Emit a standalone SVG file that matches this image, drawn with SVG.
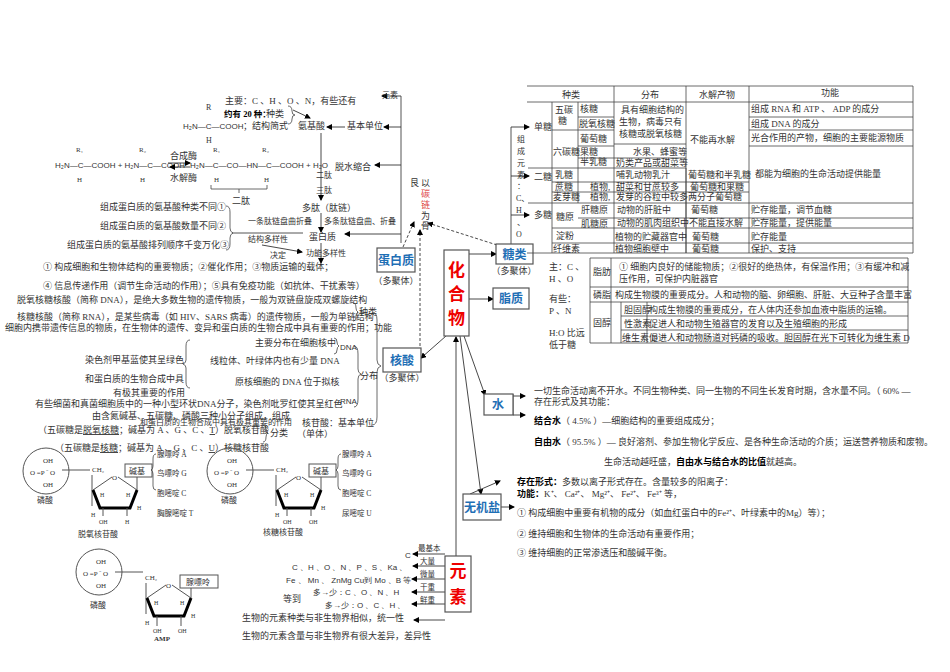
<svg xmlns="http://www.w3.org/2000/svg" width="950" height="672" viewBox="0 0 950 672">
<defs>
<marker id="a" markerWidth="6" markerHeight="6" refX="5" refY="3" orient="auto" markerUnits="userSpaceOnUse"><path d="M0,0 L6,3 L0,6 z" fill="#000"/></marker>
<style>
text{font-family:"Liberation Serif","Noto Sans CJK SC",serif;font-size:9px;fill:#333}
.b{font-weight:bold;fill:#000}
.box{fill:#fff;stroke:#555;stroke-width:1.2}
.bl{font-family:"Noto Sans CJK SC",sans-serif;font-size:12px;fill:#1f6fb5;font-weight:bold}
.rd{font-family:"Noto Sans CJK SC",sans-serif;font-size:17px;fill:#e00;font-weight:bold}
.ln{stroke:#555;stroke-width:1;fill:none}
.t{stroke:#444;stroke-width:0.8;fill:none}
.ar{stroke:#333;stroke-width:0.9;fill:none;marker-end:url(#a)}
.ds{stroke:#333;stroke-width:0.9;fill:none;stroke-dasharray:3,2;marker-end:url(#a)}
.th{stroke:#000;stroke-width:3;fill:none}
</style>
</defs>
<rect width="950" height="672" fill="#fff"/>

<g id="connectors">
<line class="ar" x1="469" y1="254" x2="496" y2="254"/>
<line class="ar" x1="469" y1="299" x2="493" y2="299"/>
<line class="ar" x1="446" y1="336" x2="421" y2="358"/>
<line class="ar" x1="464" y1="336" x2="485" y2="395"/>
<line class="ar" x1="460" y1="336" x2="481" y2="494"/>
<line class="ar" x1="456" y1="556" x2="456" y2="337"/>
<line class="ds" x1="403" y1="247" x2="414" y2="222"/>
<line class="ds" x1="420" y1="346" x2="420" y2="230"/>
<line class="ds" x1="497" y1="245" x2="428" y2="223"/>
<line class="ar" x1="470" y1="494" x2="500" y2="481"/>
<line class="ar" x1="501" y1="507" x2="514" y2="507"/>
<line class="ln" x1="513" y1="394" x2="513" y2="415"/>
<line class="ar" x1="513" y1="396" x2="525" y2="396"/>
<line class="ar" x1="513" y1="415" x2="525" y2="415"/>
<line class="ln" x1="401" y1="96" x2="401" y2="243"/>
<line class="ar" x1="401" y1="96" x2="382" y2="96"/>
<line class="ar" x1="401" y1="127" x2="384" y2="127"/>
<line class="ar" x1="345" y1="127" x2="327" y2="127"/>
<line class="ar" x1="401" y1="165" x2="375" y2="165"/>
<line class="ar" x1="401" y1="234" x2="345" y2="234"/>
<line class="ar" x1="293" y1="110" x2="310" y2="118"/>
<line class="ar" x1="321" y1="133" x2="321" y2="200"/>
<line class="ar" x1="321" y1="213" x2="321" y2="232"/>
<line class="ar" x1="321" y1="243" x2="321" y2="263"/>
<line class="ln" x1="232" y1="233" x2="303" y2="233"/>
<line class="ar" x1="262" y1="245" x2="302" y2="252"/>
<line class="ar" x1="445" y1="554" x2="413" y2="554"/>
<line class="ar" x1="445" y1="566" x2="413" y2="566"/>
<line class="ar" x1="445" y1="579" x2="412" y2="579"/>
<line class="ar" x1="445" y1="592" x2="412" y2="592"/>
<line class="ar" x1="445" y1="604" x2="412" y2="604"/>
<line class="ar" x1="445" y1="620" x2="414" y2="620"/>
<line class="ln" x1="511" y1="127" x2="511" y2="245"/>
<line class="ar" x1="511" y1="127" x2="529" y2="127"/>
<line class="ar" x1="511" y1="176" x2="529" y2="176"/>
<line class="ar" x1="511" y1="215" x2="529" y2="215"/>
</g>

<g id="n-huahewu"><rect class="box" x="444" y="250" width="25" height="86"/>
<text class="rd" x="456.5" y="276" text-anchor="middle">化</text><text class="rd" x="456.5" y="300" text-anchor="middle">合</text><text class="rd" x="456.5" y="324" text-anchor="middle">物</text></g>
<g id="n-tanglei"><rect class="box" x="496" y="244" width="37" height="20"/><text class="bl" x="514.5" y="259" text-anchor="middle">糖类</text><text x="514" y="274" text-anchor="middle">（多聚体）</text></g>
<g id="n-zhizhi"><rect class="box" x="493" y="288" width="36" height="21"/><text class="bl" x="511" y="303" text-anchor="middle">脂质</text></g>
<g id="n-danbai"><rect class="box" x="377" y="248" width="38" height="24"/><text class="bl" x="396" y="265" text-anchor="middle">蛋白质</text><text x="396" y="284" text-anchor="middle">（多聚体）</text></g>
<g id="n-hesuan"><rect class="box" x="383" y="348" width="38" height="24"/><text class="bl" x="402" y="365" text-anchor="middle">核酸</text><text x="402" y="381" text-anchor="middle">（多聚体）</text></g>
<g id="n-shui"><rect class="box" x="484" y="394" width="29" height="21"/><text class="bl" x="498" y="409" text-anchor="middle">水</text></g>
<g id="n-wujiyan"><rect class="box" x="463" y="494" width="38" height="26"/><text class="bl" x="482" y="512" text-anchor="middle">无机盐</text></g>
<g id="n-yuansu"><rect class="box" x="445" y="556" width="26" height="56"/><text class="rd" x="458" y="577" text-anchor="middle">元</text><text class="rd" x="458" y="603" text-anchor="middle">素</text></g>
<g id="n-tanlian"><text x="410" y="186">艮</text><text x="421" y="186">以</text><text x="421" y="197" style="fill:#d44">碳</text><text x="421" y="208" style="fill:#d44">链</text><text x="421" y="219">为</text><text x="421" y="229">骨</text></g>

<g id="protein">
<text x="382" y="98" style="font-size:8px">元素</text>
<text x="225" y="104">主要：C 、H 、O 、N，有些还有</text>
<text x="224" y="117" class="b" style="font-size:8.5px">约有 20 种：</text><text x="266" y="117">种类</text>
<text x="206" y="110" style="font-size:8px">R</text>
<text x="183" y="129" style="font-family:'Liberation Sans',sans-serif;font-size:8px">H₂N—C—COOH</text><text x="243" y="129">；结构简式</text>
<text x="206" y="143" style="font-size:8px">H</text>
<path class="t" d="M288,106 q4,0 4,5 q0,4 3,4 q-3,0 -3,4 q0,5 -4,5"/>
<text x="298" y="129">氨基酸</text>
<text x="347" y="129">基本单位</text>
<text x="335" y="170">脱水缩合</text>
<text x="316" y="178" style="font-size:8px">二肽</text><text x="316" y="193" style="font-size:8px">三肽</text>
<text x="55" y="168" style="font-family:'Liberation Sans',sans-serif;font-size:8px">H₂N—C—COOH + H₂N—C—COOH</text>
<text x="76" y="152" style="font-size:7px">R₁</text><text x="139" y="152" style="font-size:7px">R₂</text>
<text x="77" y="182" style="font-size:7px">H</text><text x="140" y="182" style="font-size:7px">H</text>
<text x="190" y="168" style="font-family:'Liberation Sans',sans-serif;font-size:8px">H₂N—C—CO—HN—C—COOH + H₂O</text>
<text x="213" y="152" style="font-size:7px">R₁</text><text x="262" y="152" style="font-size:7px">R₂</text>
<text x="214" y="182" style="font-size:7px">H</text><text x="264" y="182" style="font-size:7px">H</text>
<text x="170" y="159">合成酶</text><text x="170" y="181">水解酶</text>
<line class="ar" x1="168" y1="163" x2="190" y2="163"/><line class="ar" x1="190" y1="167" x2="170" y2="167"/>
<path class="t" d="M211,185 v4 h28 v4 M239,189 h28 v-4"/>
<text x="232" y="204">二肽</text>
<text x="302" y="211">多肽（肽链）</text>
<text x="248" y="224" style="font-size:8px">一条肽链盘曲折叠</text><text x="324" y="224" style="font-size:8px">多条肽链盘曲、折叠</text>
<text x="309" y="240">蛋白质</text>
<text x="100" y="210">组成蛋白质的氨基酸种类不同①</text>
<text x="100" y="229">组成蛋白质的氨基酸数量不同②</text>
<text x="67" y="248">组成蛋白质的氨基酸排列顺序千变万化③</text>
<path class="t" d="M226,206 q4,0 4,6 v16 q0,4 3,5 q-3,1 -3,5 v6 q0,6 -4,6"/>
<text x="248" y="242" style="font-size:8px">结构多样性</text>
<text x="270" y="258" style="font-size:8px">决定</text>
<text x="306" y="256" style="font-size:8px">功能多样性</text>
<text x="43" y="270">① 构成细胞和生物体结构的重要物质；②催化作用；③物质运输的载体；</text>
<text x="43" y="289">④ 信息传递作用（调节生命活动的作用）；⑤具有免疫功能（如抗体、干扰素等）</text>
</g>

<g id="nucleic">
<text x="17" y="303">脱氧核糖核酸（简称 DNA），是绝大多数生物的遗传物质，一般为双链盘旋成双螺旋结构</text>
<path class="t" d="M353,303 q3,0 3,5 q0,3 2,4 q-2,1 -2,4 q0,5 -3,5"/>
<text x="359" y="315">种类</text>
<text x="17" y="320">核糖核酸（简称 RNA），是某些病毒（如 HIV、SARS 病毒）的遗传物质，一般为单链结构</text>
<text x="5" y="331">细胞内携带遗传信息的物质，在生物体的遗传、变异和蛋白质的生物合成中具有重要的作用；功能</text>
<path class="t" d="M372,312 q5,0 5,8 v40 q0,5 4,6 q-4,1 -4,6 v45 q0,8 -5,8"/>
<text x="255" y="346">主要分布在细胞核中</text>
<path class="t" d="M334,338 q3,0 3,4 q0,3 2,4 q-2,1 -2,4 q0,4 -3,4"/>
<text x="340" y="350" style="font-family:'Liberation Sans',sans-serif;font-size:8px">DNA</text>
<text x="85" y="363">染色剂甲基蓝使其呈绿色</text>
<path class="t" d="M190,340 q-4,0 -4,6 v14 q0,3 -3,4 q3,1 3,4 v14 q0,6 4,6"/>
<text x="210" y="364">线粒体、叶绿体内也有少量 DNA</text>
<path class="t" d="M354,346 q4,0 4,8 v15 q0,4 3,5 q-3,1 -3,5 v20 q0,8 -4,8"/>
<text x="360" y="379">分布</text>
<text x="85" y="382">和蛋白质的生物合成中具</text>
<text x="235" y="385">原核细胞的 DNA 位于拟核</text>
<text x="113" y="396">有极其重要的作用</text>
<text x="35" y="407">有些细菌和真菌细胞质中的一种小型环状DNA分子，染色剂吡罗红使其呈红色</text>
<text x="340" y="404" style="font-family:'Liberation Sans',sans-serif;font-size:8px">RNA</text>
<text x="92" y="419">由含氮碱基、五碳糖、磷酸三种小分子组成，组成</text>
<text x="140" y="425" style="font-size:8px">和蛋白质的生物合成中具有极其重要的作用</text>
<text x="302" y="426">核苷酸：基本单位</text>
<text x="297" y="437">（单体）</text>
<text x="38" y="433">（五碳糖是<tspan text-decoration="underline">脱氧核糖</tspan>；碱基为 A 、G 、C 、<tspan text-decoration="underline">T</tspan>）脱氧核苷酸</text>
<path class="t" d="M263,425 q3,0 3,4 q0,3 2,4 q-2,1 -2,4 q0,5 -3,5"/>
<text x="270" y="436">分类</text>
<text x="55" y="451">（五碳糖是<tspan text-decoration="underline">核糖</tspan>；碱基为 A 、G 、C 、<tspan text-decoration="underline">U</tspan>）核糖核苷酸</text>
</g>

<g id="nucleotide1">
<circle class="ln" cx="46" cy="471" r="23"/>
<text x="43" y="463" style="font-size:7px">OH</text><text x="30" y="475" style="font-size:7px">O =P ⁻ O</text><text x="43" y="487" style="font-size:7px">OH</text>
<text x="37" y="503" style="font-size:8px">磷酸</text>
<line class="ln" x1="62" y1="470" x2="90" y2="470"/>
<text x="92" y="472" style="font-size:7px">CH₂</text>
<line class="ln" x1="92" y1="475" x2="92" y2="506"/>
<path class="ln" d="M93,490 L112,477 M118,477 L137,490"/><text x="112" y="480" style="font-size:7px">O</text>
<path class="th" d="M93,490 L100,508 L130,508 L137,490"/>
<rect class="ln" x="125" y="464" width="27" height="13"/><text x="129" y="474" style="font-size:8px">碱基</text>
<line class="ln" x1="137" y1="477" x2="137" y2="490"/>
<text x="100" y="497" style="font-size:6px">H</text><text x="126" y="497" style="font-size:6px">H</text><text x="91" y="517" style="font-size:6px">H</text><text x="137" y="510" style="font-size:6px">H</text>
<line class="ln" x1="103" y1="508" x2="103" y2="516"/><line class="ln" x1="127" y1="508" x2="127" y2="516"/>
<text x="99" y="524" style="font-size:6px">OH</text><text x="125" y="524" style="font-size:6px">H</text>
<text x="78" y="537" style="font-size:8px">脱氧核苷酸</text>
<path class="t" d="M156,454 q-3,0 -3,5 v7 q0,3 -2,4 q2,1 2,4 v12 q0,4 3,4"/>
<text x="157" y="457" style="font-size:7.5px">腺嘌呤 A</text><text x="157" y="476" style="font-size:7.5px">鸟嘌呤 G</text><text x="157" y="496" style="font-size:7.5px">胞嘧啶 C</text><text x="157" y="516" style="font-size:7.5px">胸腺嘧啶 T</text>
</g>

<g id="nucleotide2">
<circle class="ln" cx="230" cy="471" r="23"/>
<text x="227" y="463" style="font-size:7px">OH</text><text x="214" y="475" style="font-size:7px">O =P ⁻ O</text><text x="227" y="487" style="font-size:7px">OH</text>
<text x="221" y="503" style="font-size:8px">磷酸</text>
<line class="ln" x1="246" y1="470" x2="274" y2="470"/>
<text x="276" y="472" style="font-size:7px">CH₂</text>
<line class="ln" x1="276" y1="475" x2="276" y2="506"/>
<path class="ln" d="M277,490 L296,477 M302,477 L321,490"/><text x="296" y="480" style="font-size:7px">O</text>
<path class="th" d="M277,490 L284,508 L314,508 L321,490"/>
<rect class="ln" x="309" y="464" width="27" height="13"/><text x="313" y="474" style="font-size:8px">碱基</text>
<line class="ln" x1="321" y1="477" x2="321" y2="490"/>
<text x="284" y="497" style="font-size:6px">H</text><text x="310" y="497" style="font-size:6px">H</text><text x="275" y="517" style="font-size:6px">H</text><text x="321" y="510" style="font-size:6px">H</text>
<line class="ln" x1="287" y1="508" x2="287" y2="516"/><line class="ln" x1="311" y1="508" x2="311" y2="516"/>
<text x="283" y="524" style="font-size:6px">OH</text><text x="309" y="524" style="font-size:6px">OH</text>
<text x="263" y="535" style="font-size:8px">核糖核苷酸</text>
<path class="t" d="M341,454 q-3,0 -3,5 v7 q0,3 -2,4 q2,1 2,4 v12 q0,4 3,4"/>
<text x="342" y="457" style="font-size:7.5px">腺嘌呤 A</text><text x="342" y="476" style="font-size:7.5px">鸟嘌呤 G</text><text x="342" y="496" style="font-size:7.5px">胞嘧啶 C</text><text x="342" y="516" style="font-size:7.5px">尿嘧啶 U</text>
</g>

<g id="amp">
<circle class="ln" cx="99" cy="572" r="23"/>
<text x="96" y="564" style="font-size:7px">OH</text><text x="83" y="576" style="font-size:7px">O =P ⁻ O</text><text x="96" y="588" style="font-size:7px">OH</text>
<text x="90" y="608" style="font-size:8px">磷酸</text>
<line class="ln" x1="115" y1="572" x2="143" y2="572"/>
<text x="145" y="580" style="font-size:7px">CH₂</text>
<line class="ln" x1="146" y1="583" x2="146" y2="614"/>
<path class="ln" d="M147,598 L166,585 M172,585 L191,598"/><text x="166" y="588" style="font-size:7px">O</text>
<path class="th" d="M147,598 L154,616 L184,616 L191,598"/>
<rect class="ln" x="180" y="575" width="38" height="13"/><text x="186" y="585" style="font-size:8px">腺嘌呤</text>
<line class="ln" x1="191" y1="588" x2="191" y2="598"/>
<text x="154" y="605" style="font-size:6px">H</text><text x="180" y="605" style="font-size:6px">H</text><text x="145" y="625" style="font-size:6px">H</text><text x="191" y="618" style="font-size:6px">H</text>
<line class="ln" x1="157" y1="616" x2="157" y2="626"/><line class="ln" x1="181" y1="616" x2="181" y2="626"/>
<text x="153" y="633" style="font-size:6px">OH</text><text x="178" y="633" style="font-size:6px">OH</text>
<text x="154" y="641" style="font-size:7px;font-weight:bold">AMP</text>
</g>

<g id="elements">
<text x="418" y="551" style="font-size:7.5px">最基本</text><text x="420" y="564" style="font-size:7.5px">大量</text><text x="420" y="577" style="font-size:7.5px">微量</text><text x="420" y="590" style="font-size:7.5px">干重</text><text x="420" y="603" style="font-size:7.5px">鲜重</text>
<text x="405" y="558" style="font-family:'Liberation Sans',sans-serif;font-size:8px">C</text>
<text x="292" y="570" style="font-family:'Liberation Sans',sans-serif;font-size:8px">C 、H 、O 、N 、P 、S 、Ka 、</text>
<text x="286" y="583" style="font-family:'Liberation Sans',sans-serif;font-size:8px">Fe 、 Mn 、 ZnMg Cu到  Mo 、B 等</text>
<text x="313" y="595" style="font-family:'Liberation Sans',sans-serif;font-size:8px">多→少：C 、O 、N 、H</text>
<text x="283" y="602">等到</text>
<text x="325" y="608" style="font-family:'Liberation Sans',sans-serif;font-size:8px">多→少：O 、C 、H 、</text>
<text x="242" y="621">生物的元素种类与非生物界相似，统一性</text>
<text x="242" y="639">生物的元素含量与非生物界有很大差异，差异性</text>
</g>

<g id="water">
<text x="534" y="394">一切生命活动离不开水。不同生物种类、同一生物的不同生长发育时期，含水量不同。（ 60% —</text>
<text x="534" y="405">存在形式及其功能：</text>
<text x="534" y="424"><tspan class="b">结合水</tspan>（ 4.5% ）—细胞结构的重要组成成分；</text>
<text x="534" y="445"><tspan class="b">自由水</tspan>（ 95.5% ）— 良好溶剂、参加生物化学反应、是各种生命活动的介质；运送营养物质和废物。</text>
<text x="604" y="465">生命活动越旺盛，<tspan class="b">自由水与结合水的比值</tspan>就越高。</text>
</g>

<g id="salt">
<text x="517" y="485"><tspan class="b">存在形式：</tspan>多数以离子形式存在。含量较多的阳离子：</text>
<text x="517" y="497"><tspan class="b">功能：</tspan>K⁺、 Ca²⁺、 Mg²⁺、 Fe²⁺、 Fe³⁺ 等，</text>
<text x="517" y="516">① 构成细胞中重要有机物的成分（如血红蛋白中的Fe²⁺、叶绿素中的Mg）等）；</text>
<text x="517" y="537">② 维持细胞和生物体的生命活动有重要作用；</text>
<text x="517" y="556">③ 维持细胞的正常渗透压和酸碱平衡。</text>
</g>

<g id="sugar-table">
<path class="t" d="M527,86 H913 M527,102 H913 M552,102 V253 M578,102 V203 M614,86 V253 M686,86 V253 M749,86 V253 M913,86 V253 M527,253 H913"/>
<path class="t" d="M552,130 H614 M578,117 H614 M578,146 H614 M578,158 H614 M614,144 H686 M614,158 H686 M528,168 H686 M749,117 H913 M749,130 H913 M749,146 H913 M552,182 H749 M552,192 H749 M528,203 H913 M578,218 H913 M552,228 H913 M552,243 H913 M686,168 V253"/>
<text x="571" y="98" text-anchor="middle">种类</text><text x="650" y="98" text-anchor="middle">分布</text><text x="717" y="98" text-anchor="middle">水解产物</text><text x="830" y="96" text-anchor="middle">功能</text>
<text x="534" y="130">单糖</text><text x="534" y="180">二糖</text><text x="534" y="218">多糖</text>
<text x="517" y="142" style="font-size:8px">组</text><text x="517" y="154" style="font-size:8px">成</text><text x="517" y="166" style="font-size:8px">元</text><text x="517" y="178" style="font-size:8px">素</text><text x="517" y="189" style="font-size:8px">：</text><text x="516" y="201" style="font-size:8px">C、</text><text x="516" y="213" style="font-size:8px">H</text><text x="517" y="225" style="font-size:8px">、</text><text x="516" y="237" style="font-size:8px">O</text>
<text x="555" y="113">五碳</text><text x="558" y="124">糖</text><text x="553" y="155">六碳糖</text>
<text x="580" y="112">核糖</text><text x="579" y="127">脱氧核糖</text><text x="580" y="142">葡萄糖</text><text x="580" y="155">果糖</text><text x="580" y="165">半乳糖</text>
<text x="555" y="178">乳糖</text><text x="555" y="190">蔗糖</text><text x="553" y="200">麦芽糖</text>
<text x="590" y="190">植物,</text><text x="590" y="200">植物,</text>
<text x="556" y="220">糖原</text><text x="581" y="213">肝糖原</text><text x="581" y="227">肌糖原</text>
<text x="556" y="239">淀粉</text><text x="553" y="252">纤维素</text>
<text x="621" y="113">具有细胞结构的</text><text x="619" y="125">生物，病毒只有</text><text x="619" y="137">核糖或脱氧核糖</text>
<text x="633" y="155">水果、蜂蜜等</text><text x="616" y="166">奶类产品或甜菜等</text>
<text x="616" y="178">哺乳动物乳汁</text><text x="616" y="190">甜菜和甘蔗较多</text><text x="616" y="200">发芽的谷粒中较多</text>
<text x="617" y="213">动物的肝脏中</text><text x="617" y="226">动物的肌肉组织中</text><text x="615" y="240">植物的贮藏器官中</text><text x="615" y="252">植物细胞壁中</text>
<text x="690" y="143">不能再水解</text>
<text x="688" y="178">葡萄糖和半乳糖</text><text x="690" y="190">葡萄糖和果糖</text><text x="688" y="200">两分子葡萄糖</text>
<text x="691" y="213">葡萄糖</text><text x="689" y="226">不能直接水解</text><text x="692" y="240">葡萄糖</text><text x="692" y="252">葡萄糖</text>
<text x="751" y="112">组成 RNA 和 ATP 、 ADP 的成分</text><text x="751" y="127">组成 DNA 的成分</text><text x="751" y="141">光合作用的产物，细胞的主要能源物质</text>
<text x="755" y="177">都能为细胞的生命活动提供能量</text>
<text x="751" y="213">贮存能量，调节血糖</text><text x="751" y="226">贮存能量，提供能量</text><text x="751" y="240">贮存能量</text><text x="751" y="252">保护、支持</text>
</g>

<g id="lipid-table">
<text x="549" y="270">主：C 、</text><text x="549" y="282">H 、O</text>
<text x="549" y="302">有些：</text><text x="549" y="314">P 、N</text>
<text x="549" y="336">H:O 比远</text><text x="549" y="348">低于糖</text>
<path class="t" d="M590,258 H908 V343 H590 Z M611,258 V343 M590,287 H908 M590,302 H908 M621,302 V343 M647,302 V343 M621,316 H908 M621,330 H908"/>
<text x="593" y="275">脂肪</text><text x="593" y="298">磷脂</text><text x="593" y="326">固醇</text>
<text x="619" y="270">① 细胞内良好的储能物质；②很好的绝热体，有保温作用；③有缓冲和减</text>
<text x="619" y="282">压作用，可保护内脏器官</text>
<text x="615" y="298">构成生物膜的重要成分。人和动物的脑、卵细胞、肝脏、大豆种子含量丰富</text>
<text x="624" y="313">胆固醇</text><text x="649" y="313">构成生物膜的重要成分，在人体内还参加血液中脂质的运输。</text>
<text x="624" y="327">性激素</text><text x="649" y="327">促进人和动物生殖器官的发育以及生殖细胞的形成</text>
<text x="622" y="341">维生素 D</text><text x="649" y="341">促进人和动物肠道对钙磷的吸收。胆固醇在光下可转化为维生素 D</text>
</g>
</svg>
